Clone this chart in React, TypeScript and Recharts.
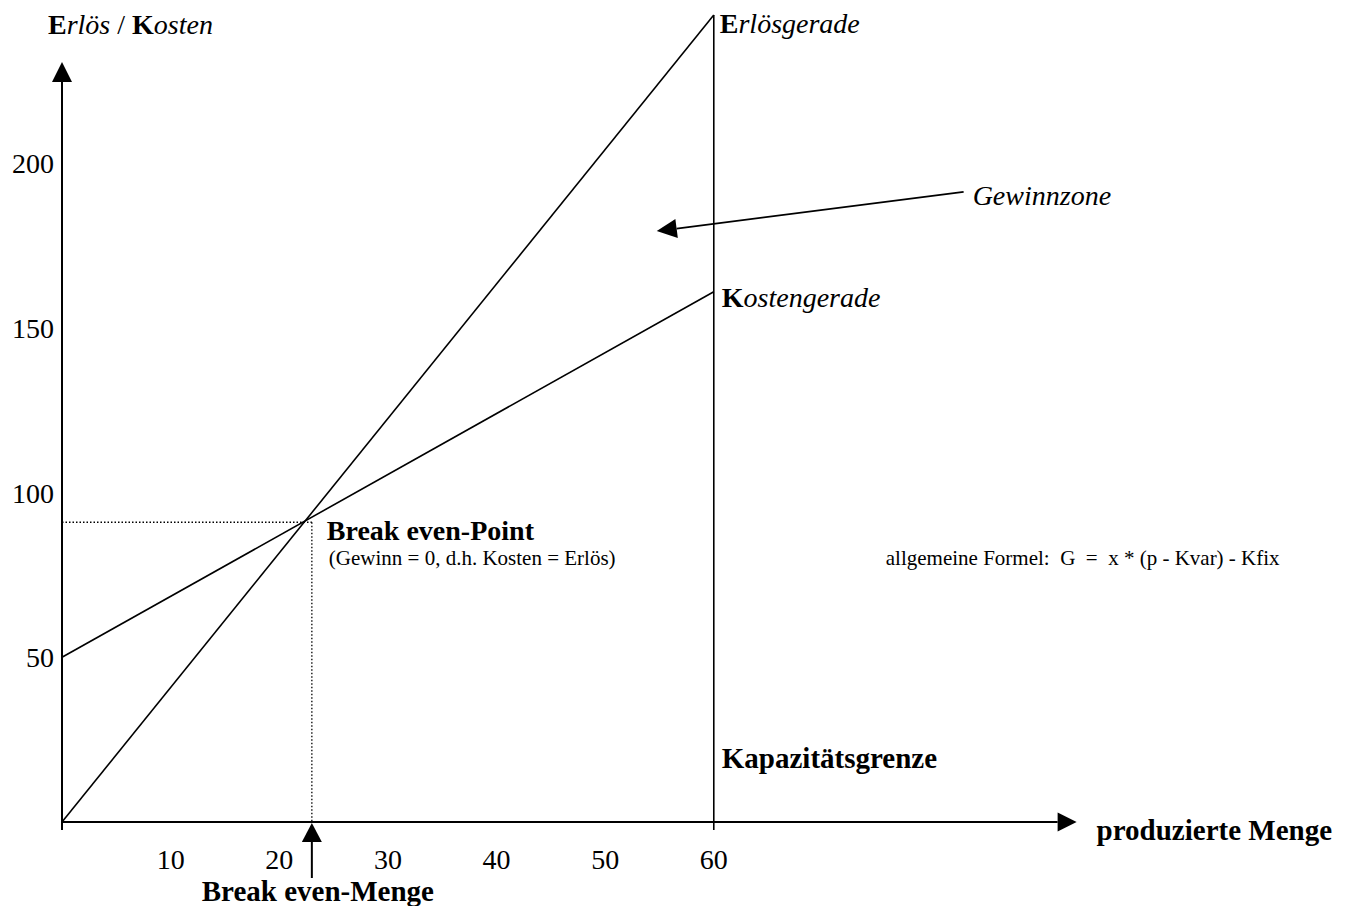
import React from "react";
import {
  ComposedChart,
  Line,
  XAxis,
  YAxis,
  ReferenceLine,
  ReferenceDot,
} from "recharts";

// ---- data ----
const mengen = [0, 60];
const erloes = [0, 245];
const kosten = [50, 161];
const xTicks = [10, 20, 30, 40, 50, 60];
const yTicks = [50, 100, 150, 200];
const breakEvenMenge = 23;
const breakEvenWert = 91;
const kapazitaetsgrenze = 60;
const xAxisEnd = 93.4;
const yAxisEnd = 230.7;
const axisBelow = -2.4;
const beArrowStart = -17;
const gewinnArrowFrom = { x: 83.0, y: 191.3 };
const gewinnArrowTo = { x: 54.75, y: 179.4 };

const data = mengen.map((x, i) => ({ x, erloes: erloes[i], kosten: kosten[i] }));

const FONT = '"Liberation Serif", "Times New Roman", serif';

function arrowShape(head = 19, half = 9.5, width = 2) {
  return (p: any) => {
    const x1 = Number(p.x1), y1 = Number(p.y1), x2 = Number(p.x2), y2 = Number(p.y2);
    const dx = x2 - x1, dy = y2 - y1;
    const len = Math.hypot(dx, dy) || 1;
    const ux = dx / len, uy = dy / len;
    const bx = x2 - ux * head, by = y2 - uy * head;
    const px = -uy, py = ux;
    return (
      <g>
        <line x1={x1} y1={y1} x2={bx} y2={by} stroke="#000" strokeWidth={width} />
        <polygon
          points={`${x2},${y2} ${bx + px * half},${by + py * half} ${bx - px * half},${by - py * half}`}
          fill="#000"
        />
      </g>
    );
  };
}

function labelShape(
  content: React.ReactNode,
  dx: number,
  dy: number,
  size: number,
  extra: any = {}
) {
  return (p: any) => (
    <text
      x={Number(p.cx) + dx}
      y={Number(p.cy) + dy}
      fontFamily={FONT}
      fontSize={size}
      fill="#000"
      style={{ whiteSpace: "pre" }}
      {...extra}
    >
      {content}
    </text>
  );
}

const B = ({ children }: any) => <tspan fontWeight="bold" fontStyle="normal">{children}</tspan>;
const I = ({ children }: any) => <tspan fontStyle="italic" fontWeight="normal">{children}</tspan>;
const N = ({ children }: any) => <tspan fontStyle="normal" fontWeight="normal">{children}</tspan>;

export default function App() {
  return (
    <div style={{ position: "absolute", left: 0, top: 0, background: "#fff" }}>
      <ComposedChart
        width={1353}
        height={906}
        data={data}
        margin={{ top: 15, right: 259, bottom: 44, left: 0 }}
      >
        <XAxis
          type="number"
          dataKey="x"
          domain={[0, 95]}
          ticks={xTicks}
          height={40}
          axisLine={false}
          tickLine={false}
          interval={0}
          tick={(p: any) => (
            <text x={p.x} y={Number(p.y) + 39} textAnchor="middle" fontFamily={FONT} fontSize={28} fill="#000">
              {p.payload.value}
            </text>
          )}
        />
        <YAxis
          type="number"
          domain={[0, 245]}
          ticks={yTicks}
          width={62}
          axisLine={false}
          tickLine={false}
          interval={0}
          tick={(p: any) => (
            <text x={Number(p.x)} y={Number(p.y) + 10} textAnchor="end" fontFamily={FONT} fontSize={28} fill="#000">
              {p.payload.value}
            </text>
          )}
        />

        {/* dotted guides to break-even point */}
        <ReferenceLine
          segment={[{ x: 0, y: breakEvenWert }, { x: breakEvenMenge, y: breakEvenWert }]}
          stroke="#000"
          strokeWidth={1.3}
          strokeDasharray="1.5 2"
          ifOverflow="visible"
        />
        <ReferenceLine
          segment={[{ x: breakEvenMenge, y: breakEvenWert }, { x: breakEvenMenge, y: 0 }]}
          stroke="#000"
          strokeWidth={1.3}
          strokeDasharray="1.5 2"
          ifOverflow="visible"
        />

        {/* axes with arrows */}
        <ReferenceLine
          segment={[{ x: 0, y: axisBelow }, { x: 0, y: yAxisEnd }]}
          ifOverflow="visible"
          shape={arrowShape(20, 10, 2)}
        />
        <ReferenceLine
          segment={[{ x: 0, y: 0 }, { x: xAxisEnd, y: 0 }]}
          ifOverflow="visible"
          shape={arrowShape(19, 9.5, 2)}
        />

        {/* Kapazitätsgrenze */}
        <ReferenceLine
          segment={[{ x: kapazitaetsgrenze, y: axisBelow }, { x: kapazitaetsgrenze, y: 245 }]}
          stroke="#000"
          strokeWidth={1.6}
          ifOverflow="visible"
        />

        {/* Break even-Menge arrow */}
        <ReferenceLine
          segment={[{ x: breakEvenMenge, y: beArrowStart }, { x: breakEvenMenge, y: -0.3 }]}
          ifOverflow="visible"
          shape={arrowShape(19, 10, 2)}
        />

        {/* Gewinnzone arrow */}
        <ReferenceLine
          segment={[gewinnArrowFrom, gewinnArrowTo]}
          ifOverflow="visible"
          shape={arrowShape(20, 9.5, 1.8)}
        />

        <Line
          type="linear"
          dataKey="erloes"
          stroke="#000"
          strokeWidth={1.6}
          dot={false}
          activeDot={false}
          isAnimationActive={false}
        />
        <Line
          type="linear"
          dataKey="kosten"
          stroke="#000"
          strokeWidth={1.6}
          dot={false}
          activeDot={false}
          isAnimationActive={false}
        />

        {/* text labels */}
        <ReferenceDot
          x={0}
          y={245}
          r={0}
          ifOverflow="visible"
          shape={labelShape(
            <>
              <B>E</B>
              <I>rlös</I>
              <N> / </N>
              <B>K</B>
              <I>osten</I>
            </>,
            -14,
            19,
            28
          )}
        />
        <ReferenceDot
          x={kapazitaetsgrenze}
          y={245}
          r={0}
          ifOverflow="visible"
          shape={labelShape(
            <>
              <B>E</B>
              <I>rlösgerade</I>
            </>,
            6,
            18,
            28
          )}
        />
        <ReferenceDot
          x={kapazitaetsgrenze}
          y={kosten[1]}
          r={0}
          ifOverflow="visible"
          shape={labelShape(
            <>
              <B>K</B>
              <I>ostengerade</I>
            </>,
            8,
            15,
            28
          )}
        />
        <ReferenceDot
          x={gewinnArrowFrom.x}
          y={gewinnArrowFrom.y}
          r={0}
          ifOverflow="visible"
          shape={labelShape(<I>Gewinnzone</I>, 9, 13, 28)}
        />
        <ReferenceDot
          x={breakEvenMenge}
          y={breakEvenWert}
          r={0}
          ifOverflow="visible"
          shape={labelShape("Break even-Point", 15, 18, 28, { fontWeight: "bold" })}
        />
        <ReferenceDot
          x={breakEvenMenge}
          y={breakEvenWert}
          r={0}
          ifOverflow="visible"
          shape={labelShape("(Gewinn = 0, d.h. Kosten = Erlös)", 17, 43, 21)}
        />
        <ReferenceDot
          x={kapazitaetsgrenze}
          y={breakEvenWert}
          r={0}
          ifOverflow="visible"
          shape={labelShape("allgemeine Formel:  G  =  x * (p - Kvar) - Kfix", 172, 43, 21)}
        />
        <ReferenceDot
          x={kapazitaetsgrenze}
          y={0}
          r={0}
          ifOverflow="visible"
          shape={labelShape("Kapazitätsgrenze", 8, -54, 29, { fontWeight: "bold" })}
        />
        <ReferenceDot
          x={xAxisEnd}
          y={0}
          r={0}
          ifOverflow="visible"
          shape={labelShape("produzierte Menge", 20, 18, 29, { fontWeight: "bold" })}
        />
        <ReferenceDot
          x={breakEvenMenge}
          y={beArrowStart}
          r={0}
          ifOverflow="visible"
          shape={labelShape("Break even-Menge", 6, 23, 29, { fontWeight: "bold", textAnchor: "middle" })}
        />
      </ComposedChart>
    </div>
  );
}
